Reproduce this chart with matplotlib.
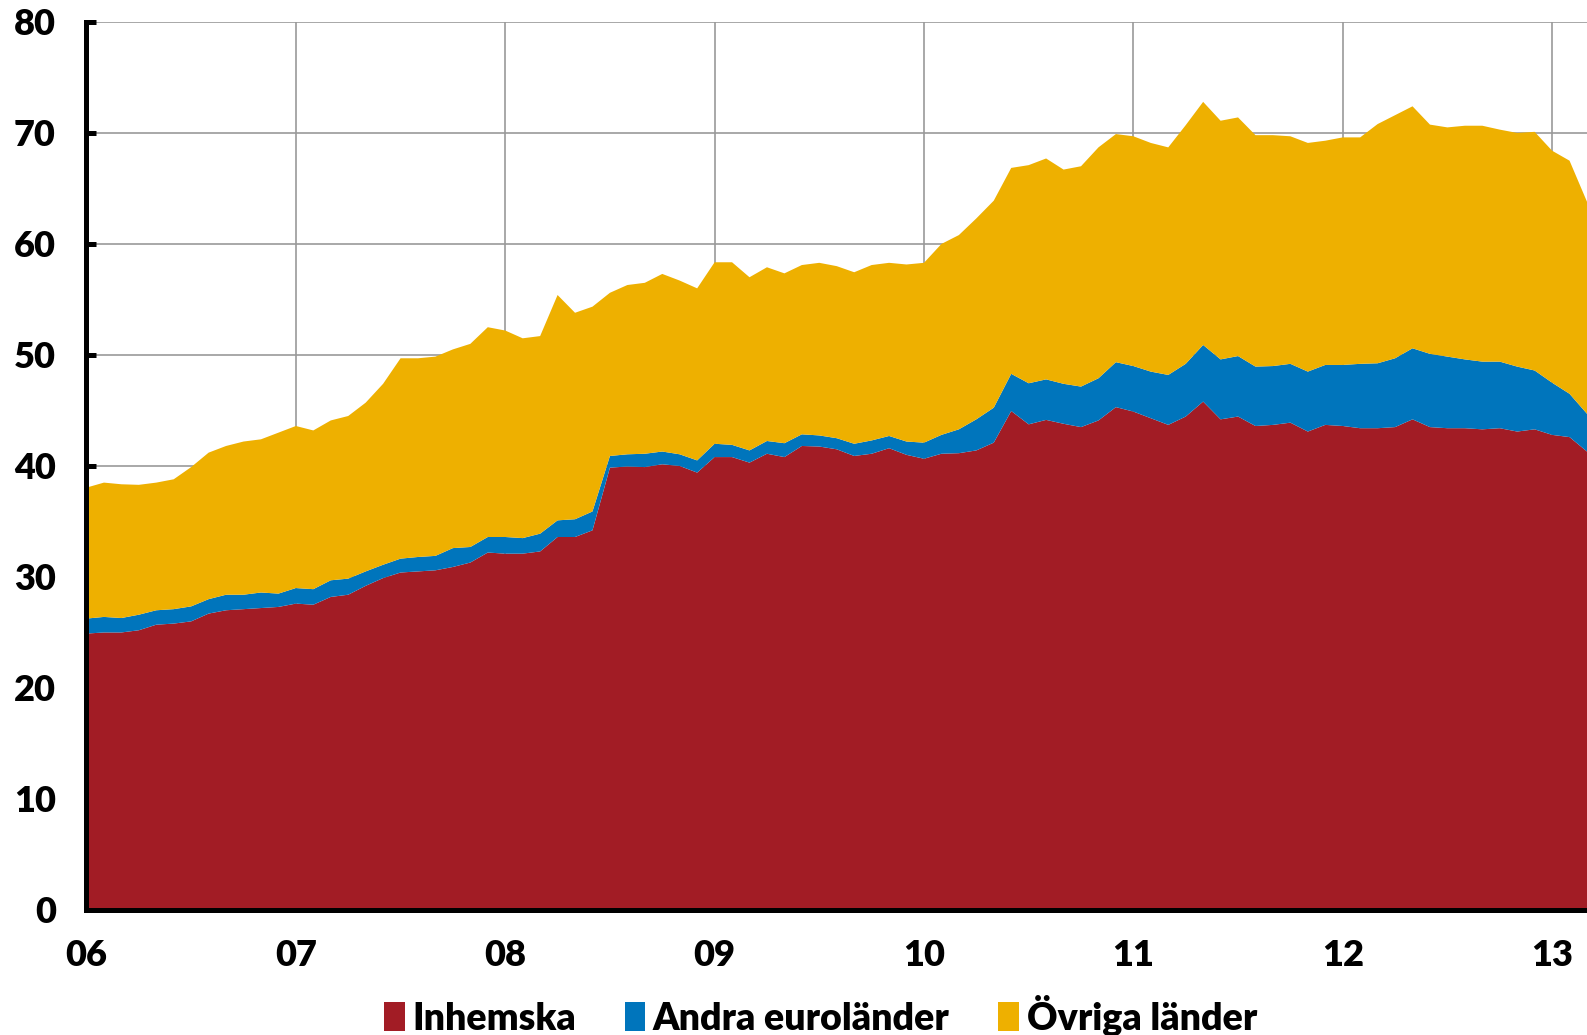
import numpy as np
import matplotlib.pyplot as plt

# monthly data, Jan 2006 - Mar 2013
inhemska = [24.9, 25.0, 25.0, 25.2, 25.7, 25.8, 26.0, 26.7, 27.0, 27.1, 27.2, 27.3,
            27.6, 27.5, 28.2, 28.4, 29.2, 29.9, 30.4, 30.5, 30.6, 30.9, 31.3, 32.2,
            32.1, 32.1, 32.3, 33.6, 33.6, 34.2, 39.85, 39.95, 39.9, 40.15, 40.0, 39.4,
            40.8, 40.8, 40.3, 41.1, 40.8, 41.8, 41.75, 41.5, 40.9, 41.1, 41.6, 41.0,
            40.65, 41.1, 41.15, 41.4, 42.1, 44.95, 43.75, 44.15, 43.8, 43.5, 44.1, 45.3,
            44.9, 44.3, 43.7, 44.45, 45.8, 44.2, 44.45, 43.6, 43.7, 43.9, 43.1, 43.7,
            43.6, 43.4, 43.4, 43.5, 44.2, 43.5, 43.4, 43.4, 43.3, 43.4, 43.1, 43.3,
            42.8, 42.6, 41.3]
andra = [1.35, 1.4, 1.3, 1.4, 1.3, 1.3, 1.35, 1.3, 1.4, 1.3, 1.4, 1.2,
         1.4, 1.4, 1.5, 1.45, 1.3, 1.2, 1.25, 1.3, 1.3, 1.7, 1.4, 1.4,
         1.5, 1.4, 1.6, 1.5, 1.6, 1.7, 1.05, 1.1, 1.2, 1.15, 1.05, 1.1,
         1.2, 1.1, 1.1, 1.15, 1.25, 1.05, 1.0, 1.0, 1.1, 1.2, 1.1, 1.2,
         1.45, 1.7, 2.15, 2.8, 3.15, 3.35, 3.7, 3.65, 3.6, 3.65, 3.8, 4.05,
         4.1, 4.2, 4.5, 4.75, 5.1, 5.4, 5.45, 5.35, 5.3, 5.3, 5.4, 5.4,
         5.5, 5.8, 5.85, 6.2, 6.4, 6.6, 6.45, 6.2, 6.1, 6.0, 5.85, 5.3,
         4.7, 3.9, 3.4]
ovriga = [11.8, 12.1, 12.05, 11.7, 11.5, 11.7, 12.55, 13.2, 13.4, 13.8, 13.8, 14.5,
          14.6, 14.3, 14.4, 14.65, 15.2, 16.3, 18.05, 17.9, 17.95, 17.9, 18.3, 18.9,
          18.6, 18.0, 17.8, 20.3, 18.6, 18.45, 14.7, 15.25, 15.4, 16.0, 15.65, 15.5,
          16.35, 16.45, 15.6, 15.65, 15.3, 15.25, 15.55, 15.5, 15.45, 15.8, 15.6, 15.95,
          16.2, 17.2, 17.5, 18.1, 18.65, 18.55, 19.65, 19.9, 19.3, 19.85, 20.8, 20.55,
          20.7, 20.6, 20.5, 21.5, 21.9, 21.5, 21.5, 20.85, 20.8, 20.5, 20.6, 20.2,
          20.5, 20.4, 21.55, 21.9, 21.8, 20.65, 20.65, 21.05, 21.25, 20.9, 21.05, 21.5,
          20.9, 21.0, 19.1]
labels = ["Inhemska", "Andra euroländer", "Övriga länder"]
colors = ["#A21C25", "#0075BC", "#EEB000"]
years = list(range(2006, 2014))
year_labels = ["06", "07", "08", "09", "10", "11", "12", "13"]

x = 2006 + np.arange(len(inhemska)) / 12.0

plt.rcParams['font.family'] = ['Lato', 'DejaVu Sans']
plt.rcParams['font.weight'] = 'heavy'

fig = plt.figure(figsize=(15.87, 10.35), dpi=100)
ax = fig.add_axes([0.0545, 0.1208, 0.9455, 0.858])

ax.stackplot(x, inhemska, andra, ovriga, colors=colors, labels=labels,
             linewidth=0)

ax.set_xlim(x[0], x[-1])
ax.set_ylim(0, 80)
ax.set_yticks(range(0, 81, 10))
ax.set_xticks(years)
ax.set_xticklabels(year_labels)

ax.set_axisbelow(True)
ax.grid(True, color="#999999", linewidth=1.2)

for s in ["top", "right"]:
    ax.spines[s].set_visible(False)
for s in ["left", "bottom"]:
    ax.spines[s].set_linewidth(3.6)
    ax.spines[s].set_color("black")
    ax.spines[s].set_zorder(5)

ax.tick_params(axis="both", direction="in", length=7, width=3.6,
               labelsize=26, color="black")
ax.tick_params(axis="y", pad=22)
ax.tick_params(axis="x", pad=21)
for t in ax.get_xticklabels() + ax.get_yticklabels():
    t.set_fontweight("heavy")

leg = fig.legend(loc="center", bbox_to_anchor=(0.517, 0.019), ncol=3,
                 frameon=False, handlelength=0.55,
                 handleheight=0.8, handletextpad=0.2, columnspacing=1.3,
                 prop={"weight": "heavy", "size": 27})

fig.savefig("out.png", dpi=100)
